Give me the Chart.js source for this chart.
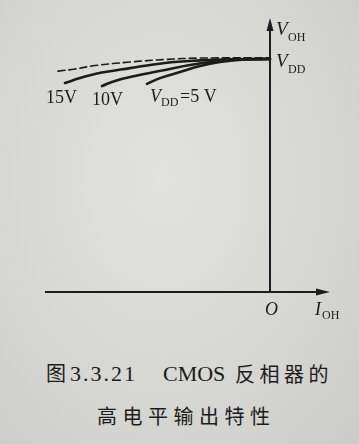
<!DOCTYPE html>
<html>
<head>
<meta charset="utf-8">
<script src="https://cdn.jsdelivr.net/npm/chart.js@4/dist/chart.umd.min.js"></script>
<style>
  html, body { margin: 0; padding: 0; }
  body {
    width: 359px; height: 444px; overflow: hidden; position: relative;
    background: radial-gradient(ellipse at 45% 40%, #e2e2de 0%, #d6d6d2 60%, #cbcbc7 100%);
    color: #1c1c1c;
  }
  #wrap { position: absolute; left: 0; top: 0; width: 359px; height: 320px; }
  .t { position: absolute; white-space: nowrap; line-height: 1; }
  .lat { font-family: "Liberation Serif", serif; font-size: 22px; }
  .cjk { font-family: "Noto Sans CJK SC", sans-serif; font-size: 20px; }
</style>
</head>
<body>
<div id="wrap"><canvas id="chart" width="359" height="320"></canvas></div>

<span class="t cjk" style="left:46px;top:363px;">图</span>
<span class="t lat" style="left:70px;top:363px;letter-spacing:2px;">3.3.21</span>
<span class="t lat" style="left:163px;top:363px;">CMOS</span>
<span class="t cjk" style="left:235px;top:364px;letter-spacing:4.5px;">反相器的</span>
<span class="t cjk" style="left:97px;top:406px;letter-spacing:5.5px;">高电平输出特性</span>

<script>
// I_OH (arbitrary units, negative = current flowing out) vs V_OH, V_DD level = 10
const vddLevel = 10

const iohLimit = [-8.48, -7.8, -7.0, -5.6, -4.2, -2.8, 0]
const vohLimit = [9.48, 9.57, 9.72, 9.87, 9.98, 10.04, 10.05]

const ioh15 = [-8.2, -7.6, -7.0, -5.6, -4.2, -2.8, -1.6, 0]
const voh15 = [8.97, 9.18, 9.36, 9.61, 9.83, 9.94, 9.99, 10]

const ioh10 = [-6.72, -6.2, -5.4, -4.2, -3.2, -2.2, -1.2, 0]
const voh10 = [8.84, 9.06, 9.27, 9.53, 9.74, 9.89, 9.98, 10]

const ioh5 = [-4.92, -4.4, -3.6, -2.8, -2.0, -1.0, 0]
const voh5 = [8.93, 9.18, 9.44, 9.70, 9.87, 9.98, 10]

const seriesLabels = ["15V", "10V", "5 V"]

const ink = "#1c1c1c"
const pts = (xs, ys) => xs.map((x, i) => ({ x, y: ys[i] }))

const axesPlugin = {
  id: "axes",
  beforeDatasetsDraw(chart) {
    const { ctx, scales: { x, y } } = chart
    const x0 = x.getPixelForValue(0)
    const y0 = y.getPixelForValue(0)
    const left = x.getPixelForValue(x.min)
    const right = x.getPixelForValue(x.max)
    const top = y.getPixelForValue(y.max)
    ctx.save()
    ctx.strokeStyle = ink
    ctx.fillStyle = ink
    ctx.lineWidth = 2
    ctx.beginPath()
    ctx.moveTo(x0, y0)
    ctx.lineTo(x0, top + 8)
    ctx.moveTo(left, y0)
    ctx.lineTo(right - 8, y0)
    ctx.stroke()
    // arrow heads
    ctx.beginPath()
    ctx.moveTo(x0, top)
    ctx.lineTo(x0 - 3.5, top + 13)
    ctx.lineTo(x0 + 3.5, top + 13)
    ctx.closePath()
    ctx.fill()
    ctx.beginPath()
    ctx.moveTo(right, y0)
    ctx.lineTo(right - 14, y0 - 3.5)
    ctx.lineTo(right - 14, y0 + 3.5)
    ctx.closePath()
    ctx.fill()
    ctx.restore()
  },
  afterDraw(chart) {
    const { ctx, scales: { x, y } } = chart
    const x0 = x.getPixelForValue(0)
    const y0 = y.getPixelForValue(0)
    const yv = y.getPixelForValue(vddLevel)
    const it = (s) => `italic ${s}px "Liberation Serif", serif`
    const up = (s) => `${s}px "Liberation Serif", serif`
    ctx.save()
    ctx.fillStyle = ink
    ctx.textBaseline = "alphabetic"
    ctx.textAlign = "left"

    // V_OH
    ctx.font = it(19); ctx.fillText("V", x0 + 6, 35)
    ctx.font = up(12); ctx.fillText("OH", x0 + 18, 41)
    // V_DD
    ctx.font = it(19); ctx.fillText("V", x0 + 6, yv + 8)
    ctx.font = up(12); ctx.fillText("DD", x0 + 18, yv + 14)
    // O
    ctx.font = it(18); ctx.fillText("O", x0 - 5, y0 + 23)
    // I_OH
    ctx.font = it(18); ctx.fillText("I", x0 + 45, y0 + 23)
    ctx.font = up(12); ctx.fillText("OH", x0 + 52, y0 + 27)

    // curve labels
    ctx.font = up(18)
    ctx.fillText(seriesLabels[0], 46, 103)
    ctx.fillText(seriesLabels[1], 92, 105)
    ctx.font = it(18); ctx.fillText("V", 150, 102)
    ctx.font = up(12); ctx.fillText("DD", 161, 106)
    ctx.font = up(18); ctx.fillText("=" + seriesLabels[2], 180, 102)
    ctx.restore()
  }
}

new Chart(document.getElementById("chart"), {
  type: "line",
  data: {
    datasets: [
      { data: pts(iohLimit, vohLimit), borderColor: ink, borderWidth: 1.6, borderDash: [7, 4], tension: 0.4 },
      { data: pts(ioh15, voh15), borderColor: ink, borderWidth: 2.6, tension: 0.4 },
      { data: pts(ioh10, voh10), borderColor: ink, borderWidth: 2.6, tension: 0.4 },
      { data: pts(ioh5, voh5), borderColor: ink, borderWidth: 2.6, tension: 0.4 },
    ],
  },
  options: {
    responsive: false,
    animation: false,
    events: [],
    layout: { padding: { left: 45, right: 29, top: 18, bottom: 28 } },
    elements: { point: { radius: 0 }, line: { borderCapStyle: "round" } },
    plugins: { legend: { display: false }, tooltip: { enabled: false } },
    scales: {
      x: { type: "linear", min: -9, max: 2.4, display: false },
      y: { type: "linear", min: 0, max: 11.76, display: false },
    },
  },
  plugins: [axesPlugin],
})
</script>
</body>
</html>
